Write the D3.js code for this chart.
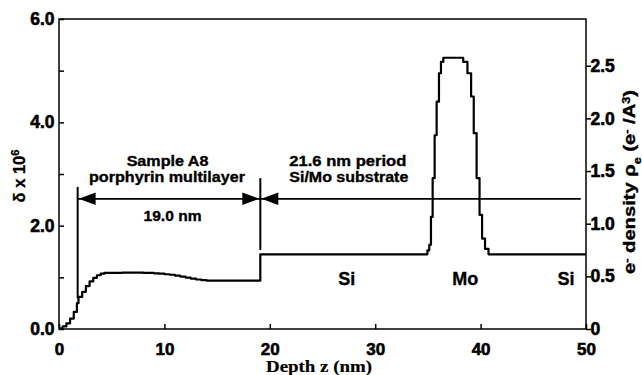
<!DOCTYPE html>
<html><head><meta charset="utf-8">
<script src="https://cdn.jsdelivr.net/npm/d3@7"></script>
<style>
body{margin:0;background:#fff}
svg{display:block}
svg text{font-family:"Liberation Sans",Arial,Helvetica,sans-serif !important;font-weight:bold !important;fill:#000;stroke:#000;stroke-width:0.35px}
svg .tick text{stroke-width:0.6px}
svg text.serif{font-family:"Liberation Serif","Times New Roman",serif !important;stroke-width:0.2px}
</style>
</head><body>
<svg id="c" width="642" height="375"></svg>
<script>
// ---- data ----
const depthZ = [0, 0.35, 0.7, 1.05, 1.4, 1.7, 1.85, 2.2, 2.55, 2.9, 3.25, 3.6, 3.95, 4.3,
  5, 6, 7, 8, 9, 9.5, 10, 10.5, 11, 11.5, 12, 12.5, 13, 13.5, 14, 15, 19.1,
  34.95, 35.13, 35.29, 35.45, 35.64, 35.83, 36.05, 36.24, 36.46,
  38.35, 38.75, 39.1, 39.35, 39.62, 39.9, 40.14, 40.42, 40.75, 50];
const deltaValues = [0.015, 0.05, 0.11, 0.2, 0.33, 0.5, 0.62, 0.72, 0.83, 0.92, 0.99, 1.04, 1.07, 1.085,
  1.088, 1.09, 1.09, 1.085, 1.078, 1.07, 1.06, 1.05, 1.035, 1.015, 0.995, 0.975, 0.958, 0.945, 0.937, 0.935, 1.446,
  1.52, 1.63, 2.17, 2.92, 3.75, 4.40, 4.95, 5.17, 5.25,
  5.17, 4.95, 4.50, 3.79, 2.92, 2.21, 1.75, 1.55, 1.446, 1.446];

const xTicks = [0, 10, 20, 30, 40, 50];
const leftTicks = [0, 2, 4, 6];
const leftTickLabels = ["0.0", "2.0", "4.0", "6.0"];
const leftMinorTicks = [1, 3, 5];
const rightTicks = [0, 0.5, 1, 1.5, 2, 2.5];
const rightTickLabels = ["0", "0.5", "1.0", "1.5", "2.0", "2.5"];

// annotation values (depth in nm, delta units)
const layerBounds = [1.77, 19.1];
const boundLow = [0.59, 1.53];
const boundHigh = [2.75, 2.92];
const arrowLevel = 2.52;
const substrateEnd = 49.5;
const regionLabels = ["Si", "Mo", "Si"];
const regionLabelZ = [27.3, 38.55, 48.1];

// ---- layout ----
const svg = d3.select("#c");
const L = 59, R = 586, T = 19, B = 329;
const x = d3.scaleLinear().domain([0, 50]).range([L, R]);
const y = d3.scaleLinear().domain([0, 6]).range([B, T]);
const yR = d3.scaleLinear().domain([0, 2.944]).range([B, T]);

// frame
svg.append("rect").attr("x", L).attr("y", T).attr("width", R - L).attr("height", B - T)
  .attr("fill", "none").attr("stroke", "#000").attr("stroke-width", 1.5);

// bottom axis (ticks inward)
const gx = svg.append("g").attr("transform", `translate(0,${B})`)
  .call(d3.axisBottom(x).tickValues(xTicks).tickSize(-5).tickFormat(d3.format("d")));
gx.select(".domain").remove();
gx.selectAll("line").attr("stroke", "#000").attr("stroke-width", 1.5);
gx.selectAll("text").attr("y", 0).attr("dy", 0).attr("transform", "translate(0,25.5)")
  .style("font-size", "17px");

// left axis (ticks inward)
const gy = svg.append("g").attr("transform", `translate(${L},0)`)
  .call(d3.axisLeft(y).tickValues(leftTicks).tickSize(-5).tickFormat((d, i) => leftTickLabels[i]));
gy.select(".domain").remove();
gy.selectAll("line").attr("stroke", "#000").attr("stroke-width", 1.5);
gy.selectAll("text").attr("x", -4.5).style("font-size", "17.5px");
const gyMinor = svg.append("g").attr("transform", `translate(${L},0)`)
  .call(d3.axisLeft(y).tickValues(leftMinorTicks).tickSize(-5).tickFormat(""));
gyMinor.select(".domain").remove();
gyMinor.selectAll("line").attr("stroke", "#000").attr("stroke-width", 1.5);

// right axis (ticks outward)
const gr = svg.append("g").attr("transform", `translate(${R},0)`)
  .call(d3.axisRight(yR).tickValues(rightTicks).tickSize(5).tickFormat((d, i) => rightTickLabels[i]));
gr.select(".domain").remove();
gr.selectAll("line").attr("stroke", "#000").attr("stroke-width", 1.5);
gr.selectAll("text").attr("x", 4.5).style("font-size", "17.5px");

// profile curve
const pts = depthZ.map((z, i) => [z, deltaValues[i]]);
svg.append("path").datum(pts)
  .attr("d", d3.line().x(d => x(d[0])).y(d => y(d[1])).curve(d3.curveStepAfter))
  .attr("fill", "none").attr("stroke", "#000").attr("stroke-width", 2.2)
  .attr("stroke-linejoin", "round");

// layer boundary markers
layerBounds.forEach((z, i) => {
  svg.append("line").attr("x1", x(z)).attr("x2", x(z))
    .attr("y1", y(boundLow[i])).attr("y2", y(boundHigh[i]))
    .attr("stroke", "#000").attr("stroke-width", 2);
});
// arrows
const ay = y(arrowLevel);
svg.append("line").attr("x1", x(layerBounds[0])).attr("x2", x(substrateEnd))
  .attr("y1", ay).attr("y2", ay).attr("stroke", "#000").attr("stroke-width", 1.8);
function head(tipX, dir) {
  const len = 17, hw = 6.3;
  svg.append("path")
    .attr("d", `M${tipX},${ay}L${tipX + dir * len},${ay - hw}L${tipX + dir * len},${ay + hw}Z`)
    .attr("fill", "#000");
}
head(x(layerBounds[0]) + 1, 1);
head(x(layerBounds[1]) - 1, -1);
head(x(layerBounds[1]) + 1, 1);

// annotation texts
function label(txt, px, py, anchor, size, len) {
  const t = svg.append("text").attr("x", px).attr("y", py).attr("text-anchor", anchor)
    .style("font-size", size + "px").text(txt);
  if (len) t.attr("textLength", len).attr("lengthAdjust", "spacingAndGlyphs");
  return t;
}
label("Sample A8", 167.5, 166.2, "middle", 14.5, 81.7);
label("porphyrin multilayer", 167, 182, "middle", 14.5, 156);
label("19.0 nm", 172.5, 221, "middle", 15, 58);
label("21.6 nm period", 289.3, 166.2, "start", 14.5, 117);
label("Si/Mo substrate", 289.3, 182, "start", 14.5, 119);
regionLabels.forEach((t, i) => label(t, x(regionLabelZ[i]), 285, "middle", 18));

// axis titles
svg.append("text").attr("class", "serif").attr("x", 319).attr("y", 372).attr("text-anchor", "middle")
  .style("font-size", "16.5px")
  .attr("textLength", 106).attr("lengthAdjust", "spacingAndGlyphs")
  .text("Depth z (nm)");

const lt = svg.append("text").attr("transform", "translate(25,176) rotate(-90)")
  .attr("text-anchor", "middle").style("font-size", "16.5px");
lt.append("tspan").text("δ x 10");
lt.append("tspan").attr("baseline-shift", "super").style("font-size", "11px").text("6");

const rt = svg.append("text").attr("transform", "translate(634.5,182) rotate(-90)")
  .attr("text-anchor", "middle").style("font-size", "16px")
  .attr("textLength", 184).attr("lengthAdjust", "spacingAndGlyphs");
rt.append("tspan").text("e");
rt.append("tspan").attr("baseline-shift", "super").style("font-size", "10px").text("-");
rt.append("tspan").text(" density  ρ");
rt.append("tspan").attr("baseline-shift", "sub").style("font-size", "10px").text("e");
rt.append("tspan").text(" (e");
rt.append("tspan").attr("baseline-shift", "super").style("font-size", "10px").text("-");
rt.append("tspan").text(" /A");
rt.append("tspan").attr("baseline-shift", "super").style("font-size", "10px").text("3");
rt.append("tspan").text(")");
</script>
</body></html>
